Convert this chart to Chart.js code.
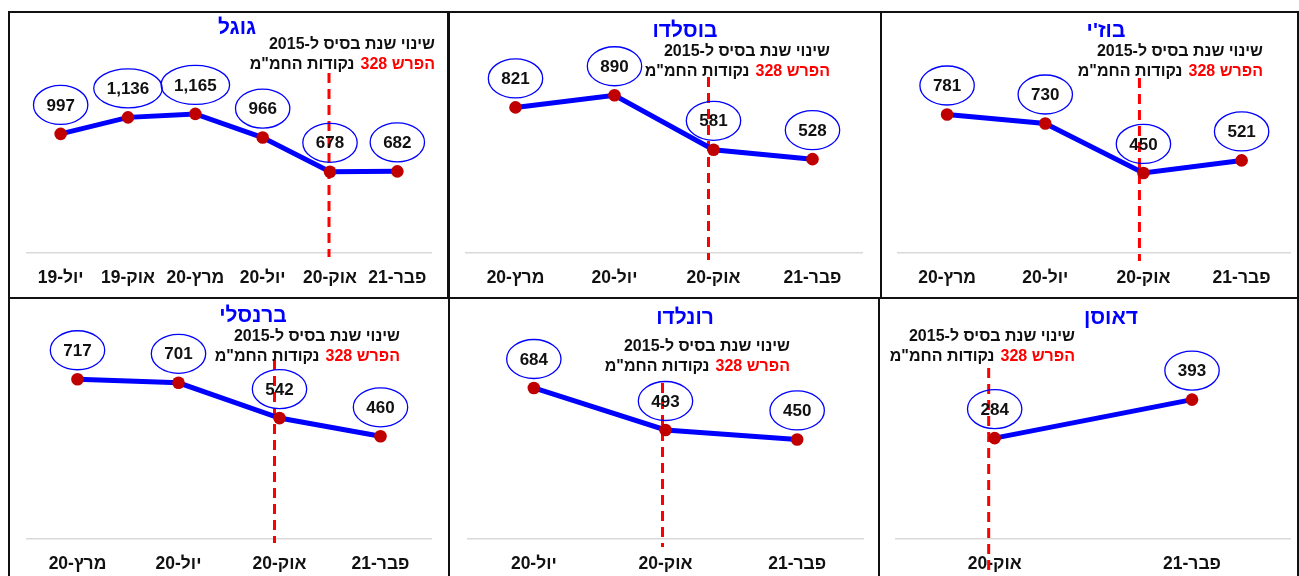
<!DOCTYPE html>
<html lang="he">
<head>
<meta charset="utf-8">
<script src="https://cdn.jsdelivr.net/npm/chart.js@4.4.1/dist/chart.umd.min.js"></script>
<style>
  html, body { margin: 0; padding: 0; background: #fff; width: 1299px; height: 576px; overflow: hidden; }
  .panel { position: absolute; box-sizing: border-box; border: 2px solid #111; background: #fff; }
  .panel canvas { position: absolute; left: 0; top: 0; }
</style>
</head>
<body>
<div class="panel" id="p1" style="left:8px;top:11px;width:441px;height:288px"><canvas id="c1" width="437" height="284"></canvas></div>
<div class="panel" id="p2" style="left:448px;top:11px;width:434px;height:288px"><canvas id="c2" width="430" height="284"></canvas></div>
<div class="panel" id="p3" style="left:880px;top:11px;width:419px;height:288px"><canvas id="c3" width="415" height="284"></canvas></div>
<div class="panel" id="p4" style="left:8px;top:297px;width:442px;height:288px"><canvas id="c4" width="438" height="284"></canvas></div>
<div class="panel" id="p5" style="left:448px;top:297px;width:432px;height:288px"><canvas id="c5" width="428" height="284"></canvas></div>
<div class="panel" id="p6" style="left:878px;top:297px;width:421px;height:288px"><canvas id="c6" width="417" height="284"></canvas></div>

<script>
// data
const googleLabels = ["יול-19", "אוק-19", "מרץ-20", "יול-20", "אוק-20", "פבר-21"];
const googleValues = [997, 1136, 1165, 966, 678, 682];

const boseldoLabels = ["מרץ-20", "יול-20", "אוק-20", "פבר-21"];
const boseldoValues = [821, 890, 581, 528];

const buziLabels = ["מרץ-20", "יול-20", "אוק-20", "פבר-21"];
const buziValues = [781, 730, 450, 521];

const barnsleyLabels = ["מרץ-20", "יול-20", "אוק-20", "פבר-21"];
const barnsleyValues = [717, 701, 542, 460];

const ronaldoLabels = ["יול-20", "אוק-20", "פבר-21"];
const ronaldoValues = [684, 493, 450];

const dawsonLabels = ["אוק-20", "פבר-21"];
const dawsonValues = [284, 393];

const markerLabel = "אוק-20";
const noteLine1 = "שינוי שנת בסיס ל-2015";
const noteRed = "הפרש 328";
const noteBlack = "נקודות החמ\"מ";

const FONT = "'Liberation Sans', Arial, sans-serif";

// ==========================
// panel drawing plugin
// ==========================
const panelDecor = {
    id: "panelDecor",

    beforeDatasetsDraw(chart, args, o) {
        const ctx = chart.ctx;
        const idx = chart.data.labels.indexOf(markerLabel);
        const x = chart.getDatasetMeta(0).data[idx].x + o.dashShift;
        ctx.save();
        ctx.strokeStyle = "#ff0000";
        ctx.lineWidth = 3;
        ctx.setLineDash([10, 6]);
        ctx.beginPath();
        ctx.moveTo(x, o.dashTop);
        ctx.lineTo(x, o.dashBottom);
        ctx.stroke();
        ctx.restore();
    },

    afterDatasetsDraw(chart, args, o) {
        const ctx = chart.ctx;
        const values = chart.data.datasets[0].data;
        ctx.save();
        ctx.direction = "rtl";

        // value bubbles
        ctx.font = "bold 17px " + FONT;
        ctx.textAlign = "center";
        ctx.textBaseline = "middle";
        chart.getDatasetMeta(0).data.forEach(function (pt, i) {
            const txt = values[i].toLocaleString("en-US");
            const w = ctx.measureText(txt).width + 26;
            const cy = pt.y - 29;
            ctx.beginPath();
            ctx.ellipse(pt.x, cy, w / 2, 19.5, 0, 0, Math.PI * 2);
            ctx.strokeStyle = "#0000ff";
            ctx.lineWidth = 1.3;
            ctx.stroke();
            ctx.fillStyle = "#111";
            ctx.fillText(txt, pt.x, cy + 1);
        });

        // title
        ctx.font = "bold 21px " + FONT;
        ctx.fillStyle = "#0000ff";
        ctx.fillText(o.title, o.titleX, o.titleY);

        // note
        ctx.font = "bold 16px " + FONT;
        ctx.textAlign = "right";
        ctx.fillStyle = "#111";
        ctx.fillText(noteLine1, o.noteRight, o.noteY);
        ctx.fillStyle = "#ff0000";
        ctx.fillText(noteRed, o.noteRight, o.noteY + 20);
        const redW = ctx.measureText(noteRed).width;
        ctx.fillStyle = "#111";
        ctx.fillText(noteBlack, o.noteRight - redW - 6, o.noteY + 20);

        ctx.restore();
    }
};

function drawPanel(canvasId, labels, values, yMax, padLeft, padRight, decor) {

    new Chart(document.getElementById(canvasId), {

        type: "line",

        data: {
            labels: labels,
            datasets: [
                {
                    data: values,
                    borderColor: "#0000ff",
                    borderWidth: 5,
                    pointRadius: 6.3,
                    pointBackgroundColor: "#c00000",
                    pointBorderWidth: 0,
                    tension: 0
                }
            ]
        },

        options: {
            responsive: false,
            animation: false,
            layout: {
                padding: { left: padLeft, right: padRight, top: 0, bottom: -6.4 }
            },
            plugins: {
                legend: { display: false },
                tooltip: { enabled: false },
                panelDecor: decor
            },
            scales: {
                x: {
                    offset: true,
                    grid: { display: false, drawTicks: false },
                    border: { display: true, color: "#d9d9d9", width: 1.5 },
                    ticks: {
                        color: "#111",
                        padding: 15,
                        maxRotation: 0,
                        autoSkip: false,
                        font: { family: FONT, size: 17.5, weight: "bold" }
                    }
                },
                y: {
                    display: false,
                    min: 0,
                    max: yMax
                }
            }
        },

        plugins: [panelDecor]
    });
}

drawPanel("c1", googleLabels, googleValues, 1961, 17, 16,
    { title: "גוגל", titleX: 227, titleY: 15, noteRight: 425, noteY: 32, dashShift: -1, dashTop: 60, dashBottom: 244 });

drawPanel("c2", boseldoLabels, boseldoValues, 1320, 16, 18,
    { title: "בוסלדו", titleX: 235, titleY: 18, noteRight: 380, noteY: 39, dashShift: -5, dashTop: 64, dashBottom: 247 });

drawPanel("c3", buziLabels, buziValues, 1320, 16, 3,
    { title: "בוז'י", titleX: 224, titleY: 18, noteRight: 381, noteY: 39, dashShift: -4, dashTop: 65, dashBottom: 248 });

drawPanel("c4", barnsleyLabels, barnsleyValues, 1050, 17, 17,
    { title: "ברנסלי", titleX: 243, titleY: 17, noteRight: 390, noteY: 38, dashShift: -5, dashTop: 61, dashBottom: 244 });

drawPanel("c5", ronaldoLabels, ronaldoValues, 1060, 18, 15,
    { title: "רונלדו", titleX: 235, titleY: 19, noteRight: 340, noteY: 48, dashShift: -3, dashTop: 84, dashBottom: 248 });

drawPanel("c6", dawsonLabels, dawsonValues, 660, 16, 4,
    { title: "דאוסן", titleX: 231, titleY: 19, noteRight: 195, noteY: 38, dashShift: -6, dashTop: 69, dashBottom: 272 });
</script>
</body>
</html>
